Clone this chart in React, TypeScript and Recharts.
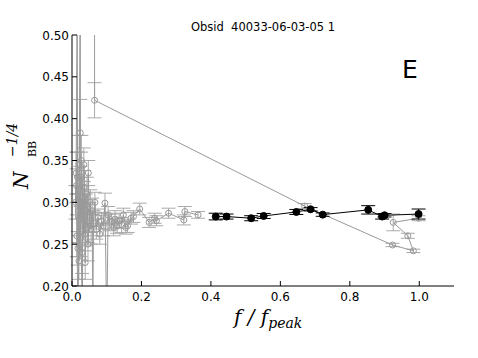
import React from 'react';
import { ComposedChart, Line, XAxis, YAxis, ErrorBar } from 'recharts';

// black series: f/f_peak, N_BB^-1/4, error
const blackX = [0.414, 0.445, 0.516, 0.552, 0.646, 0.687, 0.722, 0.853, 0.893, 0.9, 0.998];
const blackY = [0.283, 0.283, 0.281, 0.2837, 0.2885, 0.2917, 0.2853, 0.291, 0.283, 0.2845, 0.286];
const blackErr = [0.004, 0.003, 0.003, 0.003, 0.003, 0.002, 0.002, 0.005, 0.003, 0.002, 0.006];

// gray series, low-frequency tangle (null error = point off the axes)
const grayAX = [
  0.01, 0.012, 0.015, 0.016, 0.014, 0.018, 0.019, 0.013, 0.017, 0.021, 0.024, 0.024, 0.022, 0.026,
  0.02, 0.028, 0.025, 0.03, 0.031, 0.027, 0.033, 0.029, 0.035, 0.037, 0.034, 0.04, 0.038, 0.043,
  0.045, 0.047, 0.05, 0.046, 0.053, 0.055, 0.058, 0.06, 0.062, 0.066, 0.07, 0.075, 0.08, 0.085,
  0.09, 0.095, 0.1, 0.104, 0.108, 0.114, 0.12, 0.124, 0.13, 0.136, 0.143, 0.148, 0.155, 0.16,
  0.17, 0.177, 0.195, 0.222, 0.238, 0.243, 0.278, 0.322, 0.325, 0.363,
];
const grayAY = [
  0.3, 0.335, 0.56, 0.33, 0.26, 0.15, 0.29, 0.32, 0.245, 0.345, 0.6, 0.383, 0.28, 0.33,
  0.23, 0.305, 0.265, 0.17, 0.3, 0.35, 0.275, 0.24, 0.318, 0.262, 0.345, 0.29, 0.228, 0.31,
  0.27, 0.335, 0.282, 0.25, 0.3, 0.268, 0.29, 0.18, 0.275, 0.3, 0.268, 0.282, 0.262, 0.278,
  0.272, 0.299, 0.15, 0.285, 0.276, 0.277, 0.27, 0.28, 0.272, 0.278, 0.273, 0.285, 0.27, 0.272,
  0.281, 0.283, 0.292, 0.276, 0.281, 0.278, 0.287, 0.279, 0.289, 0.285,
];
const grayAErr = [
  0.02, 0.025, null, 0.03, 0.025, null, 0.03, 0.02, 0.02, 0.035, null, 0.04, 0.03, 0.03,
  0.022, 0.025, 0.03, null, 0.025, 0.03, 0.02, 0.025, 0.02, 0.02, 0.02, 0.02, 0.02, 0.02,
  0.018, 0.015, 0.018, 0.02, 0.015, 0.018, 0.015, null, 0.015, 0.012, 0.012, 0.01, 0.012, 0.01,
  0.012, 0.012, null, 0.01, 0.01, 0.009, 0.01, 0.01, 0.009, 0.009, 0.009, 0.008, 0.008, 0.008,
  0.007, 0.007, 0.007, 0.006, 0.006, 0.006, 0.006, 0.006, 0.006, 0.004,
];

// gray series, long jump to high frequency
const grayBX = [0.065, 0.065, 0.67, 0.923, 0.983, 0.967, 0.925, 0.998];
const grayBY = [0.62, 0.422, 0.2955, 0.249, 0.242, 0.26, 0.276, 0.281];
const grayBErr = [null, 0.021, 0.003, 0.002, 0.002, 0.003, 0.01, 0.003];

const xTicks = [0, 0.2, 0.4, 0.6, 0.8, 1.0];
const yTicks = [0.2, 0.25, 0.3, 0.35, 0.4, 0.45, 0.5];

const build = (xs: number[], ys: number[], es: (number | null)[]) =>
  xs.map((x, i) => ({ x, y: ys[i], err: es[i] }));

const blackData = build(blackX, blackY, blackErr);
const grayAData = build(grayAX, grayAY, grayAErr);
const grayBData = build(grayBX, grayBY, grayBErr);

const FONT = '"DejaVu Sans", sans-serif';
const SERIF = '"DejaVu Serif", serif';
const GRAY = '#999999';

const BottomTick = (p: any) => (
  <g>
    <line x1={p.x} x2={p.x} y1={p.y} y2={p.y - 5} stroke="#000" />
    <text x={p.x} y={p.y + 15} textAnchor="middle" fontSize={12} fontFamily={FONT} fill="#000">
      {p.payload.value.toFixed(1)}
    </text>
  </g>
);
const TopTick = (p: any) => <line x1={p.x} x2={p.x} y1={p.y} y2={p.y + 5} stroke="#000" />;
const LeftTick = (p: any) => (
  <g>
    <line x1={p.x} x2={p.x + 5} y1={p.y} y2={p.y} stroke="#000" />
    <text x={p.x - 3} y={p.y + 4.5} textAnchor="end" fontSize={12} fontFamily={FONT} fill="#000">
      {p.payload.value.toFixed(2)}
    </text>
  </g>
);
const RightTick = (p: any) => <line x1={p.x} x2={p.x - 5} y1={p.y} y2={p.y} stroke="#000" />;

const grayDot = { r: 3, fill: 'none', stroke: GRAY, strokeWidth: 1 };
const blackDot = { r: 3.5, fill: '#000', stroke: '#000', strokeWidth: 1 };

export default function App() {
  return (
    <div style={{ position: 'absolute', left: 0, top: 0, width: 478, height: 358, overflow: 'hidden', background: '#fff' }}>
      <ComposedChart width={478} height={358} margin={{ top: 35, right: 24, bottom: 52, left: 30 }}>
        <XAxis
          type="number"
          dataKey="x"
          domain={[0, 1.1]}
          ticks={xTicks}
          allowDataOverflow
          height={20}
          tickSize={0}
          tickMargin={0}
          tickLine={false}
          tick={BottomTick}
          axisLine={{ stroke: '#000' }}
        />
        <XAxis
          xAxisId="top"
          orientation="top"
          type="number"
          dataKey="x"
          domain={[0, 1.1]}
          ticks={xTicks}
          allowDataOverflow
          height={0}
          tickSize={0}
          tickMargin={0}
          tickLine={false}
          tick={TopTick}
          axisLine={{ stroke: '#000' }}
        />
        <YAxis
          type="number"
          domain={[0.2, 0.5]}
          ticks={yTicks}
          allowDataOverflow
          width={42}
          tickSize={0}
          tickMargin={0}
          tickLine={false}
          tick={LeftTick}
          axisLine={{ stroke: '#000' }}
        />
        <YAxis
          yAxisId="right"
          orientation="right"
          type="number"
          domain={[0.2, 0.5]}
          ticks={yTicks}
          allowDataOverflow
          width={0}
          tickSize={0}
          tickMargin={0}
          tickLine={false}
          tick={RightTick}
          axisLine={{ stroke: '#000' }}
        />
        <Line data={grayAData} dataKey="y" stroke={GRAY} strokeWidth={1} dot={grayDot} isAnimationActive={false}>
          <ErrorBar dataKey="err" direction="y" width={7} stroke="#aaaaaa" strokeWidth={1} />
        </Line>
        <Line data={grayBData} dataKey="y" stroke={GRAY} strokeWidth={1} dot={grayDot} isAnimationActive={false}>
          <ErrorBar dataKey="err" direction="y" width={7} stroke="#aaaaaa" strokeWidth={1} />
        </Line>
        <Line data={blackData} dataKey="y" stroke="#000" strokeWidth={1} dot={blackDot} isAnimationActive={false}>
          <ErrorBar dataKey="err" direction="y" width={7} stroke="#000" strokeWidth={1} />
        </Line>
      </ComposedChart>
      <svg width={478} height={358} style={{ position: 'absolute', left: 0, top: 0, pointerEvents: 'none' }}>
        <text x={263} y={31} textAnchor="middle" fontSize={11.5} fontFamily={FONT} fill="#000" style={{ whiteSpace: 'pre' }}>
          Obsid  40033-06-03-05 1
        </text>
        <text x={402} y={78} fontSize={25} fontFamily={FONT} fill="#000">E</text>
        <g transform="translate(28,189) rotate(-90)" fontFamily={SERIF} fill="#000">
          <text x={0} y={0} fontSize={20} fontStyle="italic">N</text>
          <text x={32} y={8} fontSize={11}>BB</text>
          <text x={32} y={-11} fontSize={14} fontStyle="italic">−1/4</text>
        </g>
        <text x={234} y={324} fontSize={20} fontFamily={SERIF} fontStyle="italic" fill="#000">
          f / f<tspan fontSize={14} dy={4}>peak</tspan>
        </text>
      </svg>
    </div>
  );
}
